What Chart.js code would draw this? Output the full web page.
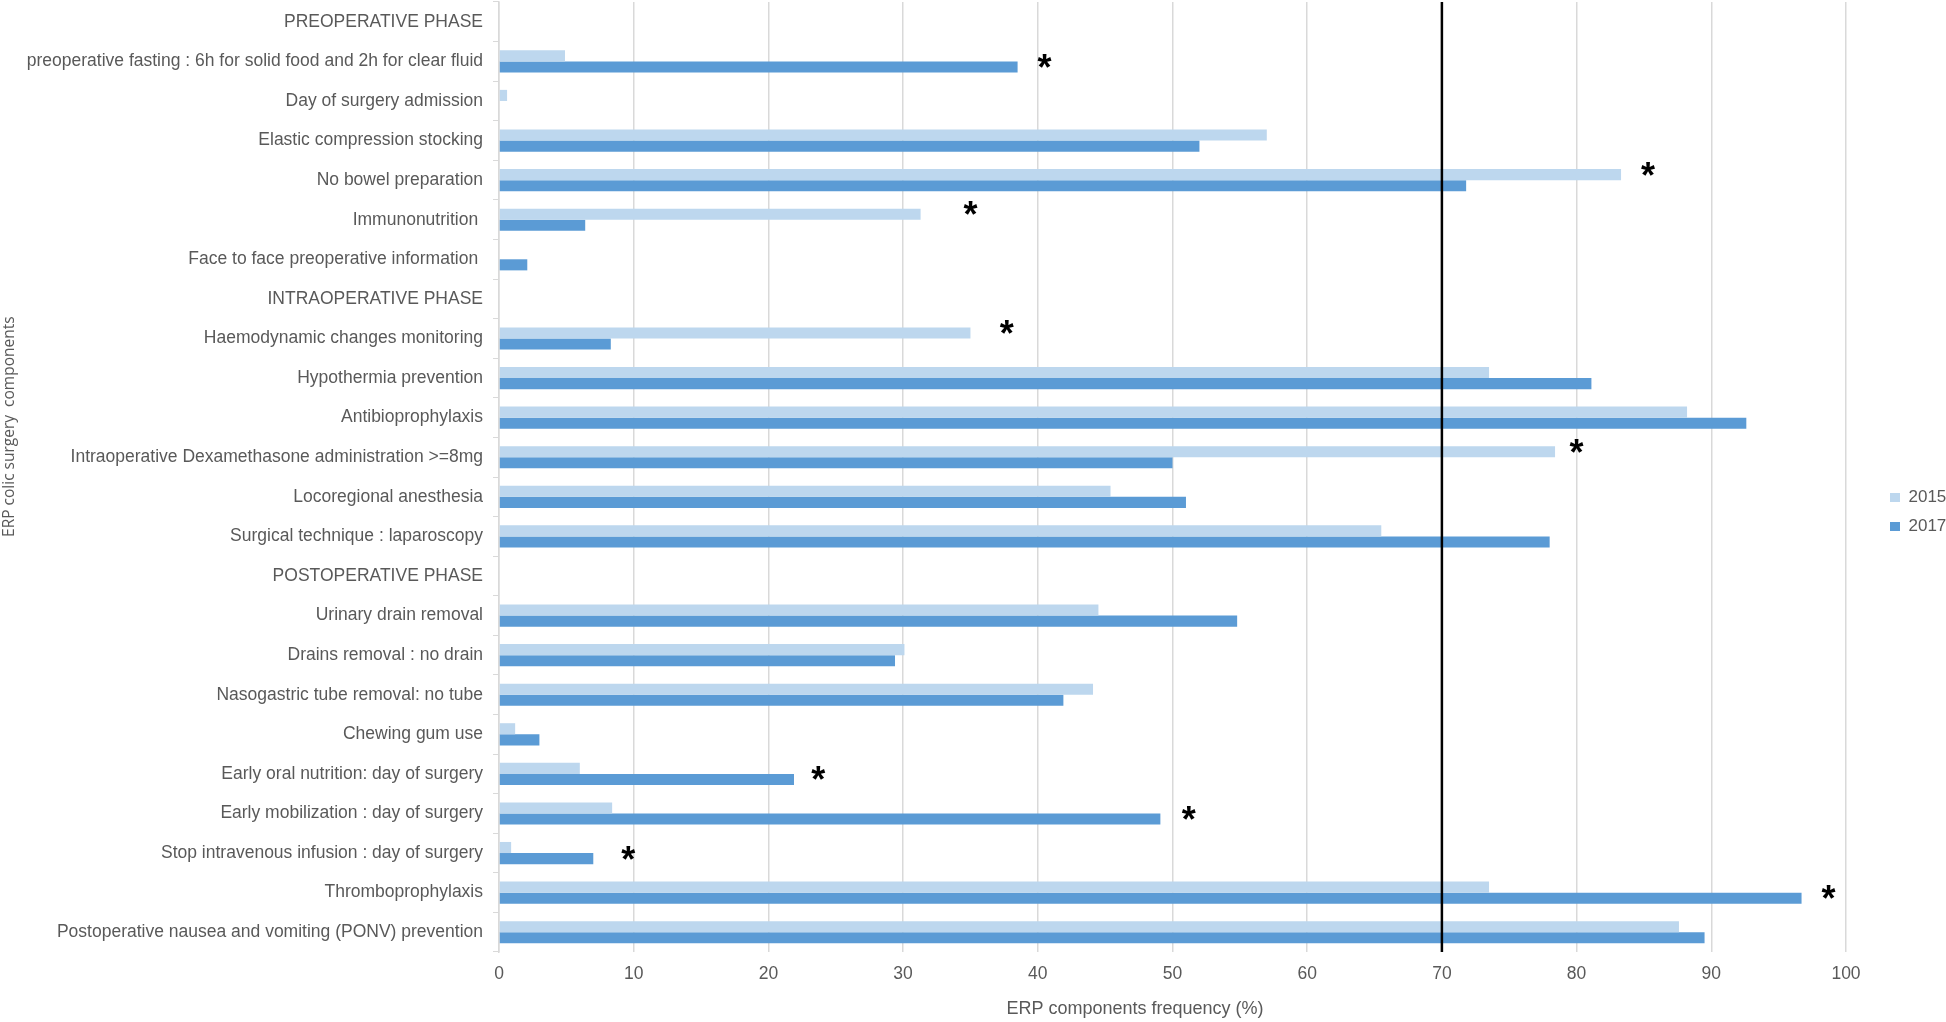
<!DOCTYPE html>
<html>
<head>
<meta charset="utf-8">
<script src="https://cdn.jsdelivr.net/npm/chart.js@4/dist/chart.umd.min.js"></script>
<style>
  html, body { margin: 0; padding: 0; background: #fff; }
  #wrap { width: 1946px; height: 1022px; }
</style>
</head>
<body>
<div id="wrap"><canvas id="chart"></canvas></div>
<script>
const categories = [
  'PREOPERATIVE PHASE',
  'preoperative fasting : 6h for solid food and 2h for clear fluid',
  'Day of surgery admission',
  'Elastic compression stocking',
  'No bowel preparation',
  'Immunonutrition ',
  'Face to face preoperative information ',
  'INTRAOPERATIVE PHASE',
  'Haemodynamic changes monitoring',
  'Hypothermia prevention',
  'Antibioprophylaxis',
  'Intraoperative Dexamethasone administration >=8mg',
  'Locoregional anesthesia',
  'Surgical technique : laparoscopy',
  'POSTOPERATIVE PHASE',
  'Urinary drain removal',
  'Drains removal : no drain',
  'Nasogastric tube removal: no tube',
  'Chewing gum use',
  'Early oral nutrition: day of surgery',
  'Early mobilization : day of surgery',
  'Stop intravenous infusion : day of surgery',
  'Thromboprophylaxis',
  'Postoperative nausea and vomiting (PONV) prevention'
];

const values2015 = [null, 4.9, 0.6, 57.0, 83.3, 31.3, 0, null, 35.0, 73.5, 88.2, 78.4, 45.4, 65.5,
  null, 44.5, 30.1, 44.1, 1.2, 6.0, 8.4, 0.9, 73.5, 87.6];
const values2017 = [null, 38.5, 0, 52.0, 71.8, 6.4, 2.1, null, 8.3, 81.1, 92.6, 50.0, 51.0, 78.0,
  null, 54.8, 29.4, 41.9, 3.0, 21.9, 49.1, 7.0, 96.7, 89.5];

// significance stars, x position in % units (null = no star)
const starAt = [null, 40.5, null, null, 85.3, 35.0, null, null, 37.7, null, null, 80.0, null, null,
  null, null, null, null, null, 23.7, 51.2, 9.6, 98.7, null];

const threshold = 70;
const xTicks = [0, 10, 20, 30, 40, 50, 60, 70, 80, 90, 100];

const FONT = "'Liberation Sans Narrow', 'Liberation Sans', sans-serif";
const GREY = '#595959';

const extras = {
  id: 'extras',
  afterLayout(chart) {
    // legend sits a bit further right than chart.js puts it
    chart.legend.left += 32;
    chart.legend.right += 32;
  },
  afterDatasetsDraw(chart) {
    const { ctx, chartArea } = chart;
    const x = chart.scales.x;
    // threshold line
    const px = x.getPixelForValue(threshold);
    ctx.save();
    ctx.strokeStyle = '#000';
    ctx.lineWidth = 2.5;
    ctx.beginPath();
    ctx.moveTo(px, chartArea.top);
    ctx.lineTo(px, chartArea.bottom);
    ctx.stroke();

    // stars next to the longer bar
    ctx.fillStyle = '#000';
    ctx.font = "bold 36px 'Liberation Sans', sans-serif";
    ctx.textAlign = 'center';
    ctx.textBaseline = 'alphabetic';
    const m15 = chart.getDatasetMeta(0).data;
    const m17 = chart.getDatasetMeta(1).data;
    starAt.forEach((s, i) => {
      if (s == null) return;
      const bar = (values2015[i] || 0) > (values2017[i] || 0) ? m15[i] : m17[i];
      ctx.fillText('*', x.getPixelForValue(s), bar.y + 13);
    });
    ctx.restore();
  }
};

new Chart(document.getElementById('chart').getContext('2d'), {
  type: 'bar',
  data: {
    labels: categories,
    datasets: [
      { label: '2015', data: values2015, backgroundColor: '#BDD7EE', borderWidth: 0 },
      { label: '2017', data: values2017, backgroundColor: '#5B9BD5', borderWidth: 0 }
    ]
  },
  options: {
    indexAxis: 'y',
    responsive: true,
    maintainAspectRatio: false,
    animation: false,
    categoryPercentage: 0.56,
    barPercentage: 1.0,
    layout: { padding: { top: 2, left: 0, right: 0, bottom: 0 } },
    scales: {
      x: {
        min: 0,
        max: 100,
        afterBuildTicks: (s) => { s.ticks = xTicks.map(v => ({ value: v })); },
        afterFit: (s) => { s.height = 70; s.paddingRight = 100; },
        border: { display: false },
        grid: { color: '#D9D9D9', lineWidth: 1.5, drawTicks: false },
        ticks: { color: GREY, font: { family: FONT, size: 17.5 }, padding: 12 },
        title: {
          display: true,
          text: 'ERP components frequency (%)' + ' '.repeat(15),
          color: GREY,
          font: { family: FONT, size: 18 },
          padding: { top: 0, bottom: 2 }
        }
      },
      y: {
        afterFit: (s) => { s.width = 499; s.paddingTop = 0; s.paddingBottom = 0; },
        border: { display: true, color: '#D9D9D9', width: 1.5 },
        grid: { offset: true, drawOnChartArea: false, drawTicks: true, tickLength: 6, color: '#D9D9D9' },
        ticks: { color: GREY, font: { family: FONT, size: 17.5 }, padding: 10, autoSkip: false },
        title: {
          display: true,
          text: ' '.repeat(25) + 'ERP colic surgery  components',
          color: GREY,
          font: { family: "'Open Sans', sans-serif", size: 15.5 },
          padding: { top: 0, bottom: 0 }
        }
      }
    },
    plugins: {
      legend: {
        position: 'right',
        labels: {
          color: GREY,
          font: { family: FONT, size: 17 },
          boxWidth: 10,
          boxHeight: 9,
          padding: 12
        }
      },
      tooltip: { enabled: false }
    }
  },
  plugins: [extras]
});
</script>
</body>
</html>
